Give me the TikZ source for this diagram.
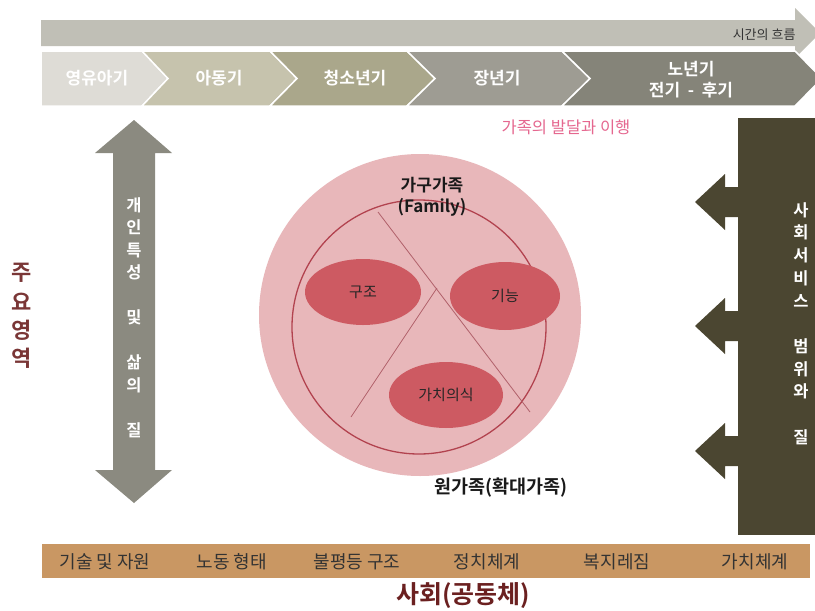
\documentclass[tikz,border=0pt]{standalone}
\usepackage{fontspec}
\setmainfont{Noto Sans CJK KR}[BoldFont={Noto Sans CJK KR Bold}]
\definecolor{barG}{HTML}{C0BFB6}
\definecolor{chA}{HTML}{DEDCD6}
\definecolor{chB}{HTML}{C6C3AD}
\definecolor{chC}{HTML}{AAA78B}
\definecolor{chD}{HTML}{9E9C93}
\definecolor{chE}{HTML}{858479}
\definecolor{arrG}{HTML}{8B8A80}
\definecolor{panel}{HTML}{4B4631}
\definecolor{pinkO}{HTML}{E8B7BA}
\definecolor{ringR}{HTML}{B2434F}
\definecolor{divR}{HTML}{B0606A}
\definecolor{ellR}{HTML}{CD5A62}
\definecolor{tan}{HTML}{C99763}
\definecolor{darkR}{HTML}{6B2020}
\definecolor{pinkT}{HTML}{E5678F}
\begin{document}
\begin{tikzpicture}[x=1pt,y=-1pt,
  chev/.style={draw=white,line width=1.5pt},
  chevtxt/.style={text=white,font=\bfseries\fontsize{17}{21}\selectfont,align=center},
  vtxt/.style={text=white,font=\bfseries\fontsize{16.5}{18}\selectfont,inner sep=0pt},
  ell/.style={fill=ellR,draw=none},
  elltxt/.style={font=\fontsize{15}{17}\selectfont,text=black!85},
  bartxt/.style={font=\fontsize{18}{20}\selectfont,text=black!80,inner sep=0pt}]
\useasboundingbox (0,0) rectangle (815,611);
\clip (0,0) rectangle (815,611);
\fill[white] (0,0) rectangle (815,611);

% time arrow
\fill[barG] (41,20) -- (795,20) -- (795,8) -- (820,33) -- (795,58) -- (795,46) -- (41,46) -- cycle;
\node[font=\fontsize{13}{15}\selectfont,text=black!80,anchor=east] (time) at (799,35) {시간의 흐름};

% chevrons
\filldraw[chev,fill=chA] (41,51) -- (142,51) -- (168,78.5) -- (142,106) -- (41,106) -- cycle;
\filldraw[chev,fill=chB] (142,51) -- (270,51) -- (297,78.5) -- (270,106) -- (142,106) -- (168,78.5) -- cycle;
\filldraw[chev,fill=chC] (270,51) -- (407,51) -- (435,78.5) -- (407,106) -- (270,106) -- (297,78.5) -- cycle;
\filldraw[chev,fill=chD] (407,51) -- (562,51) -- (590,78.5) -- (562,106) -- (407,106) -- (435,78.5) -- cycle;
\filldraw[chev,fill=chE] (562,51) -- (795,51) -- (822,78.5) -- (795,106) -- (562,106) -- (590,78.5) -- cycle;
\node[chevtxt] (c1) at (97,78) {영유아기};
\node[chevtxt] (c2) at (219,78) {아동기};
\node[chevtxt] (c3) at (355,78) {청소년기};
\node[chevtxt] (c4) at (497,78) {장년기};
\node[chevtxt] (c5) at (691,80) {노년기\\전기 \ - \ 후기};

\node[font=\fontsize{16.5}{18}\selectfont,text=pinkT] (dev) at (566,127) {가족의 발달과 이행};

% left double arrow
\fill[arrG] (134,120) -- (172,153) -- (155,153) -- (155,470) -- (172,470) -- (134,503) -- (95,470) -- (113,470) -- (113,153) -- (95,153) -- cycle;
\foreach \c [count=\i] in {개,인,특,성,,및,,삶,의,,질}
  \node[vtxt] (L\i) at (134,{205+22.5*(\i-1)}) {\c};

% left label
\foreach \c [count=\i] in {주,요,영,역}
  \node[font=\bfseries\fontsize{22}{24}\selectfont,text=darkR!90,inner sep=0pt] (M\i) at (22,{273+28.5*(\i-1)}) {\c};

% right panel with arrows
\fill[panel] (738,118) rectangle (815,535);
\foreach \yc [count=\i] in {202,326,451}
  \fill[panel] (738,{\yc-15}) -- (725,{\yc-15}) -- (725,{\yc-28}) -- (695,\yc) -- (725,{\yc+28}) -- (725,{\yc+15}) -- (738,{\yc+15}) -- cycle;
\foreach \c [count=\i] in {사,회,서,비,스,,범,위,와,,질}
  \node[vtxt] (R\i) at (801,{210+22.7*(\i-1)}) {\c};

% family circle
\fill[pinkO] (420,315) circle (161);
\draw[ringR,line width=1.3pt] (419,327) circle (127);
\draw[divR,line width=0.8pt] (378,212) -- (530,412);
\draw[divR,line width=0.8pt] (437,288) -- (351,417);
\fill[ell] (363,292) ellipse (58 and 33);
\fill[ell] (505,296) ellipse (55 and 34);
\fill[ell] (446,395) ellipse (57 and 33);
\node[elltxt] (e1) at (363,292) {구조};
\node[elltxt] (e2) at (505,296) {기능};
\node[elltxt] (e3) at (446,395) {가치의식};
\node[font=\bfseries\fontsize{17}{21}\selectfont,align=center,text=black!90] (fam) at (432,197) {가구가족\\(Family)};
\node[font=\bfseries\fontsize{18.5}{20}\selectfont,text=black!90] (orig) at (501,488) {원가족(확대가족)};

% bottom bar
\fill[tan] (42,544) rectangle (810,578);
\node[bartxt] (b1) at (105,562) {기술 및 자원};
\node[bartxt] (b2) at (232,562) {노동 형태};
\node[bartxt] (b3) at (357,562) {불평등 구조};
\node[bartxt] (b4) at (487,562) {정치체계};
\node[bartxt] (b5) at (617,562) {복지레짐};
\node[bartxt] (b6) at (755,562) {가치체계};
\node[font=\bfseries\fontsize{25}{27}\selectfont,text=darkR] (soc) at (463,596) {사회(공동체)};
\end{tikzpicture}
\end{document}
